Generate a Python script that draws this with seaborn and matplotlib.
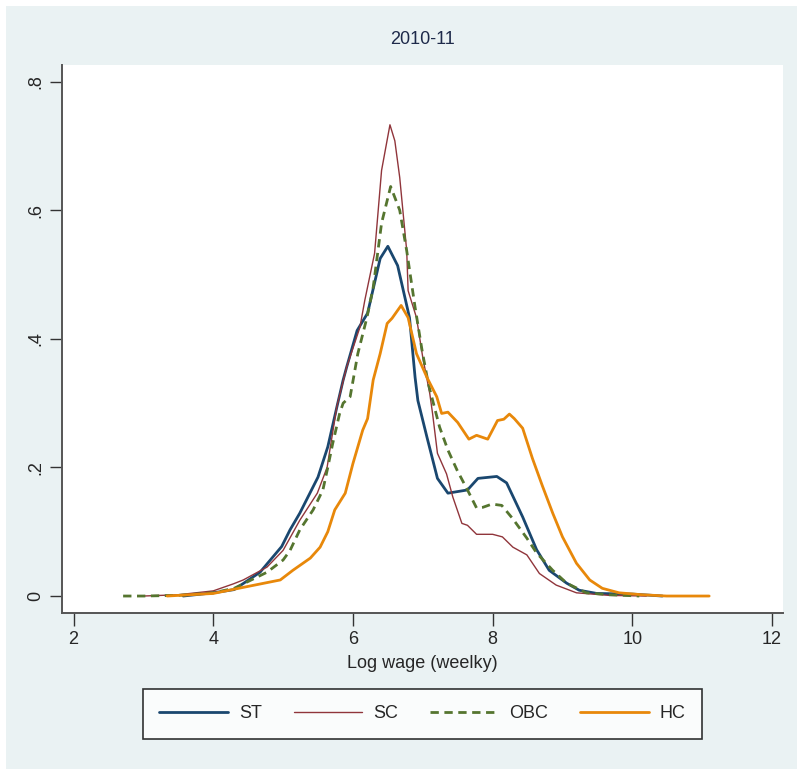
import numpy as np
import pandas as pd
import matplotlib
matplotlib.use("Agg")
import matplotlib.pyplot as plt
import seaborn as sns
from matplotlib.patches import Rectangle

sns.set_style("white")
plt.rcParams["font.family"] = ["Liberation Sans Narrow", "Liberation Sans", "DejaVu Sans"]

# kernel density curves (log weekly wage, density)
st_x = [3.57, 4.0, 4.3, 4.67, 4.98, 5.10, 5.24, 5.5, 5.64, 5.77, 5.86, 5.91, 6.06, 6.21, 6.39, 6.5,
        6.64, 6.81, 6.89, 6.93, 7.06, 7.21, 7.36, 7.64, 7.79, 8.06, 8.2, 8.43, 8.63, 8.81, 9.06,
        9.24, 9.49, 10.0, 10.43]
st_y = [0.0, 0.005, 0.01, 0.037, 0.077, 0.103, 0.129, 0.185, 0.232, 0.294, 0.336, 0.356, 0.413,
        0.44, 0.525, 0.544, 0.514, 0.433, 0.34, 0.304, 0.247, 0.183, 0.16, 0.165, 0.183, 0.186,
        0.176, 0.123, 0.072, 0.04, 0.02, 0.009, 0.004, 0.003, 0.0]

sc_x = [3.0, 3.5, 4.0, 4.29, 4.43, 4.77, 5.0, 5.24, 5.49, 5.63, 5.77, 5.91, 6.1, 6.17, 6.31, 6.41,
        6.53, 6.6, 6.67, 6.77, 6.79, 6.91, 7.0, 7.1, 7.14, 7.21, 7.34, 7.43, 7.56, 7.64, 7.77,
        8.0, 8.14, 8.29, 8.49, 8.67, 8.91, 9.2, 9.67, 10.2]
sc_y = [0.0, 0.002, 0.008, 0.019, 0.025, 0.045, 0.071, 0.118, 0.16, 0.2, 0.295, 0.356, 0.418,
        0.46, 0.533, 0.662, 0.733, 0.708, 0.651, 0.537, 0.475, 0.433, 0.371, 0.315, 0.284, 0.222,
        0.19, 0.154, 0.113, 0.11, 0.096, 0.096, 0.092, 0.076, 0.064, 0.035, 0.017, 0.005, 0.001, 0.0]

obc_x = [2.71, 3.0, 3.5, 4.0, 4.3, 4.77, 5.0, 5.1, 5.24, 5.43, 5.57, 5.64, 5.71, 5.81, 5.86, 5.96,
         5.99, 6.07, 6.2, 6.29, 6.41, 6.54, 6.67, 6.77, 6.89, 6.99, 7.08, 7.24, 7.36, 7.49, 7.64,
         7.77, 7.86, 7.99, 8.13, 8.29, 8.49, 8.63, 8.86, 9.06, 9.34, 9.67, 10.1]
obc_y = [0.0, 0.0, 0.001, 0.005, 0.012, 0.037, 0.056, 0.071, 0.103, 0.134, 0.165, 0.2, 0.237,
         0.284, 0.3, 0.31, 0.328, 0.377, 0.433, 0.48, 0.58, 0.637, 0.6, 0.537, 0.449, 0.382, 0.33,
         0.263, 0.227, 0.196, 0.165, 0.137, 0.138, 0.143, 0.141, 0.12, 0.09, 0.067, 0.04, 0.02,
         0.005, 0.002, 0.0]

hc_x = [3.34, 4.0, 4.5, 4.96, 5.14, 5.39, 5.53, 5.64, 5.74, 5.89, 6.0, 6.14, 6.21, 6.29, 6.39,
        6.49, 6.56, 6.69, 6.79, 6.91, 7.06, 7.2, 7.27, 7.36, 7.5, 7.66, 7.77, 7.93, 8.07, 8.16,
        8.24, 8.31, 8.43, 8.57, 8.71, 8.86, 9.0, 9.2, 9.39, 9.57, 9.81, 10.14, 10.49, 11.1]
hc_y = [0.0, 0.004, 0.015, 0.025, 0.04, 0.059, 0.076, 0.1, 0.134, 0.16, 0.206, 0.258, 0.276,
        0.336, 0.377, 0.424, 0.432, 0.452, 0.433, 0.377, 0.34, 0.31, 0.284, 0.286, 0.27, 0.244,
        0.25, 0.244, 0.273, 0.275, 0.283, 0.276, 0.261, 0.214, 0.172, 0.129, 0.092, 0.051, 0.025,
        0.012, 0.005, 0.002, 0.0, 0.0]

groups = ["ST", "SC", "OBC", "HC"]
colors = {"ST": "#1A476F", "SC": "#90353B", "OBC": "#55752F", "HC": "#E8880A"}
widths = {"ST": 2.0, "SC": 1.0, "OBC": 2.0, "HC": 2.0}
styles = {"ST": "-", "SC": "-", "OBC": (0, (3, 2)), "HC": "-"}

df = pd.concat([
    pd.DataFrame({"wage": st_x, "density": st_y, "group": "ST"}),
    pd.DataFrame({"wage": sc_x, "density": sc_y, "group": "SC"}),
    pd.DataFrame({"wage": obc_x, "density": obc_y, "group": "OBC"}),
    pd.DataFrame({"wage": hc_x, "density": hc_y, "group": "HC"}),
])

bg = "#EAF2F3"
fig = plt.figure(figsize=(7.97, 7.69), dpi=100, facecolor=bg)
# thin white strip on top and left edges
fig.patches.append(Rectangle((0, 0), 6 / 797, 1, transform=fig.transFigure,
                             facecolor="white", edgecolor="none", zorder=-10))
fig.patches.append(Rectangle((0, 1 - 6 / 769), 1, 6 / 769, transform=fig.transFigure,
                             facecolor="white", edgecolor="none", zorder=-10))
ax = fig.add_axes([62 / 797, 156 / 769, 721 / 797, 548 / 769])
ax.set_facecolor("white")

for g in groups:
    sns.lineplot(data=df[df.group == g], x="wage", y="density", ax=ax, color=colors[g],
                 linewidth=widths[g], linestyle=styles[g], estimator=None, sort=True, label=g)

ax.set_xlim(1.835, 12.157)
ax.set_ylim(-0.0264, 0.826)
ax.set_xticks([2, 4, 6, 8, 10, 12])
ax.set_yticks([0, 0.2, 0.4, 0.6, 0.8])
ax.set_yticklabels(["0", ".2", ".4", ".6", ".8"], rotation=90, va="center")
ax.tick_params(axis="both", direction="out", length=9, width=1, color="#333333",
               labelsize=13, pad=4, left=True, bottom=True)
for s in ["top", "right"]:
    ax.spines[s].set_visible(False)
for s in ["left", "bottom"]:
    ax.spines[s].set_color("#555555")
    ax.spines[s].set_linewidth(1.4)
ax.set_xlabel("")
ax.set_ylabel("")
ax.get_legend().remove()

fig.text(422 / 797, 1 - 40 / 769, "2010-11", ha="center", va="center", fontsize=13, color="#1E2A4A")
fig.text(422 / 797, 1 - 663 / 769, "Log wage (weelky)", ha="center", va="center", fontsize=13)

handles, labels = ax.get_legend_handles_labels()
leg = fig.legend(handles, labels, loc="center", ncol=4, mode="expand",
                 bbox_to_anchor=(134 / 797, 1 - 739 / 769, 577 / 797, 50 / 769),
                 fontsize=13, frameon=True, fancybox=False, edgecolor="black",
                 handlelength=3.8, handletextpad=0.6, columnspacing=1.5, borderpad=0.9)
leg.get_frame().set_linewidth(1.2)
leg.get_frame().set_facecolor("white")

fig.savefig("out.png", dpi=100, facecolor=fig.get_facecolor())
